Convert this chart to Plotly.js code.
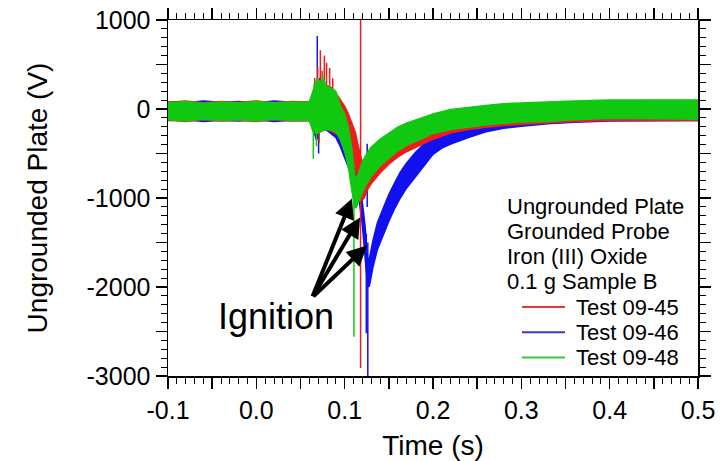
<!DOCTYPE html>
<html>
<head>
<meta charset="utf-8">
<script src="https://cdn.plot.ly/plotly-3.0.1.min.js"></script>
<style>html,body{margin:0;padding:0;background:#fff;}#chart{width:724px;height:461px;}</style>
</head>
<body>
<div id="chart"></div>
<script>
// ---- Data ----
const seriesNames = ['Test 09-45', 'Test 09-46', 'Test 09-48'];
const seriesColors = ['#ee1c1c', '#1010f0', '#10c810'];
const legendColors = ['#e03a3a', '#3a3ad0', '#3ac83a'];

// Test 09-45 (red) : time (s), upper / lower edge of the noisy band (V)
const redT  = [-0.1,-0.08,-0.06,-0.04,-0.02,0.0,0.02,0.04,0.06,0.064,0.068,0.072,0.076,0.08,0.085,0.09,0.095,0.1,0.104,0.108,0.112,0.115,0.117,0.119,0.122,0.125,0.13,0.14,0.15,0.16,0.17,0.18,0.19,0.2,0.22,0.24,0.26,0.28,0.3,0.33,0.36,0.4,0.45,0.5];
const redHi = [75,90,70,85,75,90,70,85,80,150,300,300,280,260,240,180,100,30,-50,-150,-260,-400,-480,-560,-640,-580,-500,-390,-320,-260,-210,-170,-135,-100,-45,-5,15,35,50,70,80,90,95,95];
const redLo = [-125,-140,-120,-135,-125,-140,-120,-135,-130,-200,-250,-240,-230,-230,-250,-280,-300,-330,-420,-540,-670,-820,-920,-1030,-1000,-920,-840,-720,-620,-540,-480,-430,-385,-340,-270,-230,-205,-185,-170,-155,-140,-130,-130,-130];
const redSpikeT    = [0.066,0.0695,0.0725,0.0745,0.077,0.0795,0.083,0.0865,0.071,0.118];
const redSpikeFrom = [0,0,0,0,0,0,0,0,0,1100];
const redSpikeTo   = [350,470,660,430,600,520,460,345,-380,-2910];

// Test 09-46 (blue)
const blueT  = [-0.1,-0.08,-0.06,-0.04,-0.02,0.0,0.02,0.04,0.06,0.064,0.068,0.072,0.076,0.08,0.085,0.09,0.095,0.1,0.104,0.108,0.112,0.116,0.12,0.123,0.126,0.128,0.132,0.137,0.143,0.15,0.157,0.163,0.17,0.18,0.19,0.2,0.21,0.22,0.24,0.26,0.28,0.3,0.33,0.36,0.4,0.45,0.5];
const blueHi = [80,70,90,75,85,70,90,75,80,150,250,200,200,180,150,100,-50,-200,-350,-520,-650,-820,-1050,-1300,-1700,-1680,-1480,-1280,-1130,-960,-820,-710,-610,-490,-390,-300,-240,-190,-120,-70,-30,0,30,55,75,85,90];
const blueLo = [-130,-120,-140,-125,-135,-120,-140,-125,-130,-200,-350,-250,-230,-240,-280,-320,-420,-540,-650,-760,-870,-1000,-1300,-1650,-2000,-1990,-1780,-1580,-1440,-1260,-1110,-1000,-890,-760,-640,-510,-440,-395,-320,-255,-215,-195,-165,-150,-135,-130,-130];
const blueSpikeT    = [0.069,0.0715,0.0755,0.0705,0.1245,0.1262,0.1255];
const blueSpikeFrom = [0,0,0,0,-1400,-1500,-1100];
const blueSpikeTo   = [820,350,300,-500,-2520,-3100,-390];

// Test 09-48 (green)
const greenT  = [-0.1,-0.08,-0.06,-0.04,-0.02,0.0,0.02,0.04,0.06,0.064,0.068,0.072,0.076,0.08,0.085,0.09,0.095,0.1,0.104,0.108,0.111,0.113,0.116,0.12,0.125,0.13,0.14,0.15,0.16,0.17,0.18,0.19,0.2,0.22,0.24,0.26,0.28,0.3,0.33,0.36,0.4,0.45,0.5];
const greenHi = [70,85,65,80,70,85,70,80,75,200,320,280,330,250,230,200,40,-60,-200,-430,-720,-800,-720,-600,-500,-430,-340,-270,-205,-160,-125,-95,-55,-5,20,40,60,70,80,90,100,100,100];
const greenLo = [-120,-135,-115,-130,-120,-135,-115,-130,-125,-250,-280,-260,-240,-230,-240,-260,-340,-480,-640,-880,-1100,-1110,-1040,-940,-840,-760,-640,-550,-470,-410,-365,-320,-275,-230,-205,-180,-160,-150,-140,-120,-105,-110,-115];
const greenSpikeT    = [0.0655,0.069,0.072,0.075,0.0645,0.068,0.1105];
const greenSpikeFrom = [0,0,0,0,0,0,-1000];
const greenSpikeTo   = [280,350,330,400,-560,-420,-2560];

// Ticks
const xTickVals = [-0.1,-0.05,0,0.05,0.1,0.15,0.2,0.25,0.3,0.35,0.4,0.45,0.5];
const xTickText = ['-0.1','','0.0','','0.1','','0.2','','0.3','','0.4','','0.5'];
const yTickVals = [-3000,-2500,-2000,-1500,-1000,-500,0,500,1000];
const yTickText = ['-3000','','-2000','','-1000','','0','','1000'];

const headerLines = ['Ungrounded Plate','Grounded Probe','Iron (III) Oxide','0.1 g Sample B'];

// Ignition arrows: heads (t, V) and common tail
const arrowHeadT = [0.1083, 0.1174, 0.1253];
const arrowHeadV = [-1006, -1220, -1535];
const arrowTailT = 0.063, arrowTailV = -2121;

// ---- Build traces ----
function band(t, hi, lo, color){
  const x = t.concat(t.slice().reverse());
  const y = hi.concat(lo.slice().reverse());
  return {x:x, y:y, type:'scatter', mode:'lines', fill:'toself', fillcolor:color,
          line:{color:color, width:1.5}, hoverinfo:'skip', showlegend:false};
}
function spikes(t, from, to, color){
  const x=[], y=[];
  for(let i=0;i<t.length;i++){ x.push(t[i],t[i],null); y.push(from[i],to[i],null); }
  return {x:x, y:y, type:'scatter', mode:'lines', line:{color:color, width:1.5},
          hoverinfo:'skip', showlegend:false, connectgaps:false};
}

const traces = [
  band(blueT, blueHi, blueLo, seriesColors[1]),
  spikes(blueSpikeT, blueSpikeFrom, blueSpikeTo, seriesColors[1]),
  band(redT, redHi, redLo, seriesColors[0]),
  spikes(redSpikeT, redSpikeFrom, redSpikeTo, seriesColors[0]),
  band(greenT, greenHi, greenLo, seriesColors[2]),
  spikes(greenSpikeT, greenSpikeFrom, greenSpikeTo, seriesColors[2])
];

// ---- Layout ----
const L = 168, R = 698, T = 20, B = 376;
const px = v => (v - L) / (R - L);
const py = v => (B - v) / (B - T);

const annotations = [];
const shapes = [];
headerLines.forEach((s,i)=>{
  annotations.push({xref:'paper', yref:'paper', x:px(505), y:py(206 + i*25.3), xanchor:'left', yanchor:'middle',
    text:s, showarrow:false, font:{size:22, color:'#000'}});
});
seriesNames.forEach((s,i)=>{
  const yy = py(307 + i*25.3);
  annotations.push({xref:'paper', yref:'paper', x:px(574), y:yy, xanchor:'left', yanchor:'middle',
    text:s, showarrow:false, font:{size:22, color:'#000'}});
  shapes.push({type:'line', xref:'paper', yref:'paper', x0:px(522), x1:px(565), y0:yy, y1:yy,
    line:{color:legendColors[i], width:2}});
});
arrowHeadT.forEach((t,i)=>{
  annotations.push({xref:'x', yref:'y', axref:'x', ayref:'y', x:t, y:arrowHeadV[i], ax:arrowTailT, ay:arrowTailV,
    text:'', showarrow:true, arrowhead:2, arrowsize:1, arrowwidth:4, arrowcolor:'#000', standoff:0, startstandoff:0});
});
annotations.push({xref:'x', yref:'y', x:0.0225, y:-2335, text:'Ignition', showarrow:false,
  xanchor:'center', yanchor:'middle', font:{size:36, color:'#000'}});

const axisCommon = {
  ticks:'outside', tickcolor:'#000', tickwidth:1.5, ticklen:11,
  showline:true, linecolor:'#000', linewidth:1.5, mirror:'allticks',
  showgrid:false, zeroline:false, tickfont:{size:25, color:'#000'}, tickmode:'array'
};

const layout = {
  width:724, height:461,
  margin:{l:L, r:724-R, t:T, b:461-B, pad:0},
  paper_bgcolor:'#fff', plot_bgcolor:'#fff',
  font:{family:'Liberation Sans, Arial, sans-serif', color:'#000'},
  showlegend:false,
  xaxis:Object.assign({}, axisCommon, {
    range:[-0.1,0.5], tickvals:xTickVals, ticktext:xTickText,
    minor:{tick0:0, dtick:0.01, ticks:'outside', ticklen:6, tickcolor:'#000', tickwidth:1, showgrid:false},
    title:{text:'Time (s)', font:{size:28, color:'#000'}, standoff:19}
  }),
  yaxis:Object.assign({}, axisCommon, {
    range:[-3000,1000], tickvals:yTickVals, ticktext:yTickText,
    minor:{tick0:0, dtick:100, ticks:'outside', ticklen:6, tickcolor:'#000', tickwidth:1, showgrid:false},
    title:{text:'Ungrounded Plate (V)', font:{size:28, color:'#000'}, standoff:30}
  }),
  annotations:annotations,
  shapes:shapes
};

Plotly.newPlot('chart', traces, layout, {staticPlot:true, displayModeBar:false});
</script>
</body>
</html>
